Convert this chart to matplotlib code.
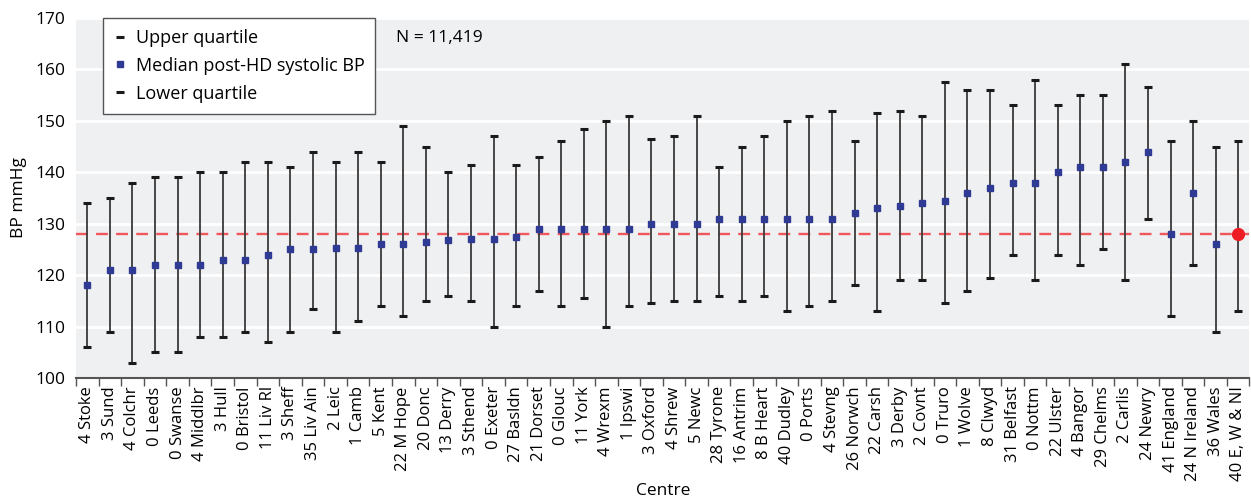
import matplotlib.pyplot as plt
from matplotlib.ticker import FixedLocator, NullFormatter

plt.rcParams['font.family'] = ['Open Sans', 'DejaVu Sans']

# centres, ordered as on the chart
centres = [
    "4 Stoke", "3 Sund", "4 Colchr", "0 Leeds", "0 Swanse", "4 Middlbr",
    "3 Hull", "0 Bristol", "11 Liv Rl", "3 Sheff", "35 Liv Ain", "2 Leic",
    "1 Camb", "5 Kent", "22 M Hope", "20 Donc", "13 Derry", "3 Sthend",
    "0 Exeter", "27 Basldn", "21 Dorset", "0 Glouc", "11 York", "4 Wrexm",
    "1 Ipswi", "3 Oxford", "4 Shrew", "5 Newc", "28 Tyrone", "16 Antrim",
    "8 B Heart", "40 Dudley", "0 Ports", "4 Stevng", "26 Norwch", "22 Carsh",
    "3 Derby", "2 Covnt", "0 Truro", "1 Wolve", "8 Clwyd", "31 Belfast",
    "0 Nottm", "22 Ulster", "4 Bangor", "29 Chelms", "2 Carlis", "24 Newry",
    "41 England", "24 N Ireland", "36 Wales", "40 E, W & NI",
]
median = [
    118, 121, 121, 122, 122, 122, 123, 123, 124, 125, 125, 125.3, 125.3, 126,
    126, 126.4, 126.8, 127, 127, 127.5, 129, 129, 129, 129, 129, 130, 130, 130,
    131, 131, 131, 131, 131, 131, 132, 133, 133.5, 134, 134.5, 136, 137, 138,
    138, 140, 141, 141, 142, 144, 128, 136, 126, 128,
]
upper = [
    134, 135, 138, 139, 139, 140, 140, 142, 142, 141, 144, 142, 144, 142,
    149, 145, 140, 141.5, 147, 141.5, 143, 146, 148.5, 150, 151, 146.5, 147, 151,
    141, 145, 147, 150, 151, 152, 146, 151.5, 152, 151, 157.5, 156, 156, 153,
    158, 153, 155, 155, 161, 156.5, 146, 150, 145, 146,
]
lower = [
    106, 109, 103, 105, 105, 108, 108, 109, 107, 109, 113.5, 109, 111, 114,
    112, 115, 116, 115, 110, 114, 117, 114, 115.5, 110, 114, 114.5, 115, 115,
    116, 115, 116, 113, 114, 115, 118, 113, 119, 119, 114.5, 117, 119.5, 124,
    119, 124, 122, 125, 119, 131, 112, 122, 109, 113,
]
national_median = 128

x = list(range(len(centres)))

fig = plt.figure(figsize=(12.51, 4.99), dpi=100)
ax = fig.add_axes([0.0608, 0.2425, 0.9380, 0.7214])
ax.set_facecolor("#eff0f2")

ax.set_xlim(-0.5, len(centres) - 0.5)
ax.set_ylim(100, 170)
ax.set_yticks(range(100, 171, 10))
ax.yaxis.grid(True, color="white", linewidth=2)
ax.set_axisbelow(True)

for side in ["left", "right", "top"]:
    ax.spines[side].set_visible(False)
ax.spines["bottom"].set_color("#555555")
ax.spines["bottom"].set_linewidth(1.5)

# reference line at the overall median
ax.axhline(national_median, color="#f0575c", linestyle=(0, (5, 3.5)), linewidth=1.7, zorder=2)

# whiskers and quartile caps
ax.vlines(x, lower, upper, color="#3a3a3a", linewidth=1.3, zorder=3)
ax.plot(x, upper, linestyle="none", marker="_", markersize=6, markeredgewidth=2.2,
        color="#1a1a1a", label="Upper quartile", zorder=4)
ax.plot(x[:-1], median[:-1], linestyle="none", marker="s", markersize=5,
        color="#2e3a94", label="Median post-HD systolic BP", zorder=5)
ax.plot(x, lower, linestyle="none", marker="_", markersize=6, markeredgewidth=2.2,
        color="#1a1a1a", label="Lower quartile", zorder=4)
# overall value highlighted
ax.plot(x[-1], median[-1], linestyle="none", marker="o", markersize=8.5,
        color="#ee1c25", zorder=6)

ax.set_xticks(x)
ax.set_xticklabels(centres, rotation=90, fontsize=12)
ax.tick_params(axis="x", which="major", length=0, pad=6)
ax.xaxis.set_minor_locator(FixedLocator([i - 0.5 for i in range(len(centres) + 1)]))
ax.xaxis.set_minor_formatter(NullFormatter())
ax.tick_params(axis="x", which="minor", length=6, width=1, color="#555555")
ax.tick_params(axis="y", length=0, labelsize=12.5, pad=8)

ax.set_ylabel("BP mmHg", fontsize=12.5, labelpad=6)
ax.set_xlabel("Centre", fontsize=12.5, labelpad=1)

ax.text(0.273, 0.945, "N = 11,419", transform=ax.transAxes, fontsize=12.5,
        ha="left", va="center")

leg = ax.legend(loc="upper left", bbox_to_anchor=(0.023, 1.0), borderaxespad=0,
                fontsize=13, handlelength=0.7, handletextpad=0.5, labelspacing=0.55,
                borderpad=0.6, fancybox=False, framealpha=1, edgecolor="#555555")
leg.get_frame().set_linewidth(1.0)

fig.savefig("out.png", dpi=100)
